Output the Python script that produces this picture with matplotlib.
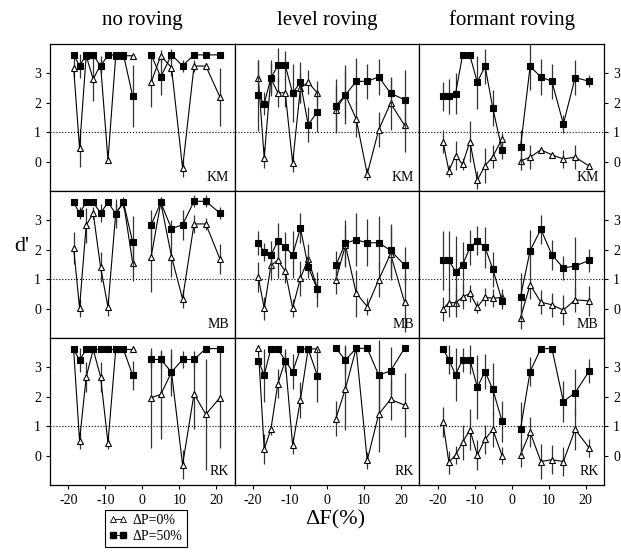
import matplotlib.pyplot as plt
import numpy as np

plt.rcParams['font.family'] = ['Liberation Serif', 'DejaVu Serif']
plt.rcParams['axes.unicode_minus'] = False

# frequency shifts (%), the gap around zero splits each curve in two
DF_NEG = [-18.6, -17.0, -15.2, -13.3, -11.3, -9.3, -7.2, -5.1, -2.6]
DF_POS = [2.4, 5.0, 7.9, 10.9, 14.0, 17.2, 21.0]

COLUMNS = ['no roving', 'level roving', 'formant roving']
SUBJECTS = ['KM', 'MB', 'RK']

# d' values, triangles = dP 0%, squares = dP 50%
KM_NO_TRI = [3.2, 0.45, 3.6, 2.8, 3.3, 0.05, 3.6, 3.6, 3.6, 2.7, 3.6, 3.2, -0.22, 3.25, 3.25, 2.2]
KM_NO_TRI_ERR = [0.35, 0.65, 0, 0.75, 0.3, 0.1, 0, 0, 0, 0.85, 0.2, 0.3, 0.3, 0.2, 0.1, 1.0]
KM_NO_SQ = [3.63, 3.26, 3.63, 3.63, 3.24, 3.63, 3.63, 3.63, 2.22, 3.63, 2.88, 3.63, 3.26, 3.63, 3.63, 3.63]
KM_NO_SQ_ERR = [0.1, 0.4, 0.1, 0.1, 0.2, 0, 0, 0, 1.05, 0, 0.63, 0.2, 0.2, 0, 0, 0]

KM_LV_TRI = [2.84, 0.13, 2.84, 2.34, 2.34, -0.05, 2.5, 2.7, 2.33, 1.77, 2.27, 1.45, -0.42, 1.08, 1.99, 1.23]
KM_LV_TRI_ERR = [0.6, 0.35, 0.5, 0.5, 0.5, 0.3, 0.5, 0.4, 0.4, 0.8, 0.8, 0.6, 0.2, 0.6, 0.9, 0.9]
KM_LV_SQ = [2.25, 1.97, 2.84, 3.27, 3.27, 2.33, 2.7, 1.25, 1.7, 1.9, 2.27, 2.73, 2.73, 2.88, 2.33, 2.1]
KM_LV_SQ_ERR = [1.2, 0.4, 0.6, 0.6, 0.5, 1.0, 0.7, 0.6, 0.7, 0.9, 1.0, 0.8, 0.6, 0.6, 0.5, 1.0]

KM_FR_TRI = [0.68, -0.31, 0.2, -0.09, 0.68, -0.63, -0.14, 0.17, 0.77, 0.02, 0.15, 0.4, 0.23, 0.09, 0.15, -0.15]
KM_FR_TRI_ERR = [0.4, 0.2, 0.5, 0.2, 0.7, 0.3, 0.6, 0.4, 0.2, 0.3, 0.4, 0.1, 0.1, 0.3, 0.4, 0.1]
KM_FR_SQ = [2.22, 2.22, 2.31, 3.61, 3.61, 2.7, 3.24, 1.82, 0.4, 0.49, 3.24, 2.88, 2.73, 1.28, 2.86, 2.73]
KM_FR_SQ_ERR = [0.5, 0.6, 0.7, 0.1, 0.1, 0.9, 0.6, 0.6, 0.3, 0.6, 0.8, 0.6, 0.6, 0.3, 0.6, 0.2]

MB_NO_TRI = [2.06, 0.03, 2.83, 3.25, 1.41, 0.05, 3.25, 3.61, 1.55, 1.77, 3.61, 1.77, 0.33, 2.88, 2.88, 1.69]
MB_NO_TRI_ERR = [0.55, 0.3, 0.6, 0.2, 0.5, 0.3, 0.3, 0.2, 0.6, 1.2, 0.2, 0.7, 0.3, 0.3, 0.2, 0.5]
MB_NO_SQ = [3.61, 3.25, 3.61, 3.61, 3.25, 3.61, 3.23, 3.61, 2.25, 2.85, 3.61, 2.72, 2.85, 3.65, 3.65, 3.25]
MB_NO_SQ_ERR = [0.1, 0.2, 0.1, 0.1, 0.3, 0.1, 0.5, 0.1, 0.9, 0.5, 0.2, 0.3, 0.5, 0.2, 0.2, 0.2]

MB_LV_TRI = [1.07, 0.01, 1.47, 1.64, 1.27, 0.02, 1.03, 1.69, 0.67, 0.98, 2.15, 0.53, 0.07, 0.98, 1.86, 0.22]
MB_LV_TRI_ERR = [0.5, 0.4, 0.5, 0.6, 0.4, 0.3, 0.6, 0.5, 0.3, 0.5, 0.7, 0.8, 0.3, 0.6, 0.9, 1.0]
MB_LV_SQ = [2.24, 1.92, 1.81, 2.3, 2.09, 1.83, 2.74, 1.43, 0.65, 1.47, 2.23, 2.34, 2.24, 2.24, 1.98, 1.48]
MB_LV_SQ_ERR = [0.4, 0.3, 0.5, 0.6, 0.5, 0.8, 0.5, 0.4, 0.6, 0.5, 0.8, 0.9, 0.8, 0.9, 0.9, 0.6]

MB_FR_TRI = [-0.01, 0.2, 0.2, 0.39, 0.52, 0.05, 0.39, 0.35, 0.38, -0.31, 0.81, 0.22, 0.13, -0.05, 0.3, 0.26]
MB_FR_TRI_ERR = [0.4, 0.5, 0.5, 0.4, 0.3, 0.2, 0.3, 0.3, 0.3, 0.4, 0.5, 0.4, 0.4, 0.5, 0.4, 0.5]
MB_FR_SQ = [1.64, 1.64, 1.26, 1.47, 2.08, 2.31, 2.08, 1.34, 0.27, 0.41, 1.97, 2.7, 1.83, 1.38, 1.45, 1.64]
MB_FR_SQ_ERR = [1.0, 1.0, 1.2, 0.8, 0.6, 0.5, 0.7, 0.6, 0.3, 0.8, 0.7, 0.5, 0.5, 0.4, 1.0, 0.4]

RK_NO_TRI = [3.61, 0.51, 2.67, 3.61, 2.68, 0.43, 3.61, 3.61, 3.61, 1.97, 2.08, 2.84, -0.31, 2.1, 1.4, 1.97]
RK_NO_TRI_ERR = [0.1, 0.3, 0.5, 0.1, 0.5, 0.2, 0.1, 0.1, 0.1, 1.7, 1.5, 0.8, 0.5, 1.2, 1.9, 1.7]
RK_NO_SQ = [3.61, 3.25, 3.61, 3.61, 3.61, 3.61, 3.61, 3.61, 2.73, 3.27, 3.27, 2.84, 3.27, 3.27, 3.64, 3.64]
RK_NO_SQ_ERR = [0.1, 0.4, 0.1, 0.1, 0.1, 0.1, 0.1, 0.1, 0.5, 0.3, 0.3, 0.6, 0.3, 0.3, 0.1, 0.1]

RK_LV_TRI = [3.65, 0.22, 0.89, 2.45, 3.23, 0.35, 1.89, 3.63, 3.63, 1.26, 2.28, 3.65, -0.16, 1.41, 1.91, 1.72]
RK_LV_TRI_ERR = [0.1, 0.5, 0.2, 0.5, 0.3, 0.3, 0.6, 0.1, 0.1, 0.6, 1.4, 0.1, 0.3, 1.3, 0.7, 1.1]
RK_LV_SQ = [3.23, 2.74, 3.63, 3.63, 3.23, 2.85, 3.63, 3.63, 2.72, 3.65, 3.25, 3.65, 3.65, 2.74, 2.88, 3.65]
RK_LV_SQ_ERR = [0.1, 0.9, 0.1, 0.1, 0.4, 0.6, 0.1, 0.1, 0.9, 0.1, 0.5, 0.1, 0.1, 1.2, 0.8, 0.1]

RK_FR_TRI = [1.14, -0.23, 0.02, 0.45, 0.88, 0.02, 0.55, 0.89, 0.0, 0.03, 0.8, -0.2, -0.14, -0.2, 0.89, 0.26]
RK_FR_TRI_ERR = [0.5, 0.4, 0.3, 0.6, 0.7, 0.5, 0.5, 0.6, 0.3, 0.4, 0.5, 0.6, 0.5, 0.5, 0.7, 0.3]
RK_FR_SQ = [3.64, 3.26, 2.75, 3.26, 3.26, 2.33, 2.86, 2.25, 1.17, 0.91, 2.86, 3.64, 3.64, 1.84, 2.14, 2.88]
RK_FR_SQ_ERR = [0.1, 0.5, 0.9, 0.4, 0.5, 1.1, 0.6, 0.9, 0.7, 0.9, 0.5, 0.1, 0.1, 0.7, 0.8, 0.4]

PANELS = [
    [(KM_NO_TRI, KM_NO_TRI_ERR, KM_NO_SQ, KM_NO_SQ_ERR),
     (KM_LV_TRI, KM_LV_TRI_ERR, KM_LV_SQ, KM_LV_SQ_ERR),
     (KM_FR_TRI, KM_FR_TRI_ERR, KM_FR_SQ, KM_FR_SQ_ERR)],
    [(MB_NO_TRI, MB_NO_TRI_ERR, MB_NO_SQ, MB_NO_SQ_ERR),
     (MB_LV_TRI, MB_LV_TRI_ERR, MB_LV_SQ, MB_LV_SQ_ERR),
     (MB_FR_TRI, MB_FR_TRI_ERR, MB_FR_SQ, MB_FR_SQ_ERR)],
    [(RK_NO_TRI, RK_NO_TRI_ERR, RK_NO_SQ, RK_NO_SQ_ERR),
     (RK_LV_TRI, RK_LV_TRI_ERR, RK_LV_SQ, RK_LV_SQ_ERR),
     (RK_FR_TRI, RK_FR_TRI_ERR, RK_FR_SQ, RK_FR_SQ_ERR)],
]


def draw_series(ax, vals, errs, marker, face, z):
    vals = np.asarray(vals)
    errs = np.asarray(errs)
    n = len(DF_NEG)
    for xs, v, e in ((DF_NEG, vals[:n], errs[:n]), (DF_POS, vals[n:], errs[n:])):
        ax.errorbar(xs, v, yerr=e, fmt='none', ecolor='#333333', elinewidth=0.9,
                    capsize=0, zorder=z - 1)
        ax.plot(xs, v, color='black', linewidth=0.8, marker=marker, markersize=5,
                markerfacecolor=face, markeredgecolor='black', markeredgewidth=0.8,
                zorder=z)


fig = plt.figure(figsize=(6.21, 5.54), dpi=100)
gs = fig.add_gridspec(3, 3, left=0.0805, right=0.9726, top=0.9206, bottom=0.1245,
                      wspace=0, hspace=0)

for r in range(3):
    for c in range(3):
        ax = fig.add_subplot(gs[r, c])
        tri, tri_err, sq, sq_err = PANELS[r][c]
        draw_series(ax, tri, tri_err, '^', 'white', 3)
        draw_series(ax, sq, sq_err, 's', 'black', 5)
        ax.axhline(1, color='black', linestyle=':', linewidth=0.8, zorder=1)

        ax.set_xlim(-25, 25)
        ax.set_ylim(-1, 4)
        ax.set_yticks([0, 1, 2, 3])
        ax.set_xticks([-20, -10, 0, 10, 20])
        ax.tick_params(labelsize=10, length=3, width=0.8)
        for sp in ax.spines.values():
            sp.set_linewidth(0.9)

        if c == 0:
            ax.tick_params(axis='y', left=True, labelleft=True, right=False)
        elif c == 2:
            ax.tick_params(axis='y', left=False, labelleft=False, right=True, labelright=True)
        else:
            ax.tick_params(axis='y', left=False, labelleft=False)

        if r < 2:
            ax.tick_params(axis='x', bottom=False, labelbottom=False)

        if r == 0:
            ax.set_title(COLUMNS[c], fontsize=15, pad=14)

        ax.text(0.97, 0.05, SUBJECTS[r], transform=ax.transAxes, ha='right',
                va='bottom', fontsize=10)

fig.text(0.035, 0.555, "d'", fontsize=16, ha='center', va='center')
fig.text(0.54, 0.062, r'ΔF(%)', fontsize=16, ha='center', va='center')

h_tri, = plt.plot([], [], color='black', linewidth=0.6, marker='^', markersize=4,
                  markerfacecolor='white', markeredgecolor='black', markeredgewidth=0.6)
h_sq, = plt.plot([], [], color='black', linewidth=0.6, marker='s', markersize=4,
                 markerfacecolor='black', markeredgecolor='black')
leg = fig.legend([h_tri, h_sq], ['ΔP=0%', 'ΔP=50%'], loc='upper left',
                 bbox_to_anchor=(0.158, 0.092), fontsize=10, numpoints=2,
                 handlelength=1.3, handletextpad=0.4, borderpad=0.3,
                 labelspacing=0.2, fancybox=False, framealpha=1)
leg.get_frame().set_edgecolor('black')
leg.get_frame().set_linewidth(0.8)

plt.savefig('out.png', dpi=100, facecolor='white')
plt.close()
